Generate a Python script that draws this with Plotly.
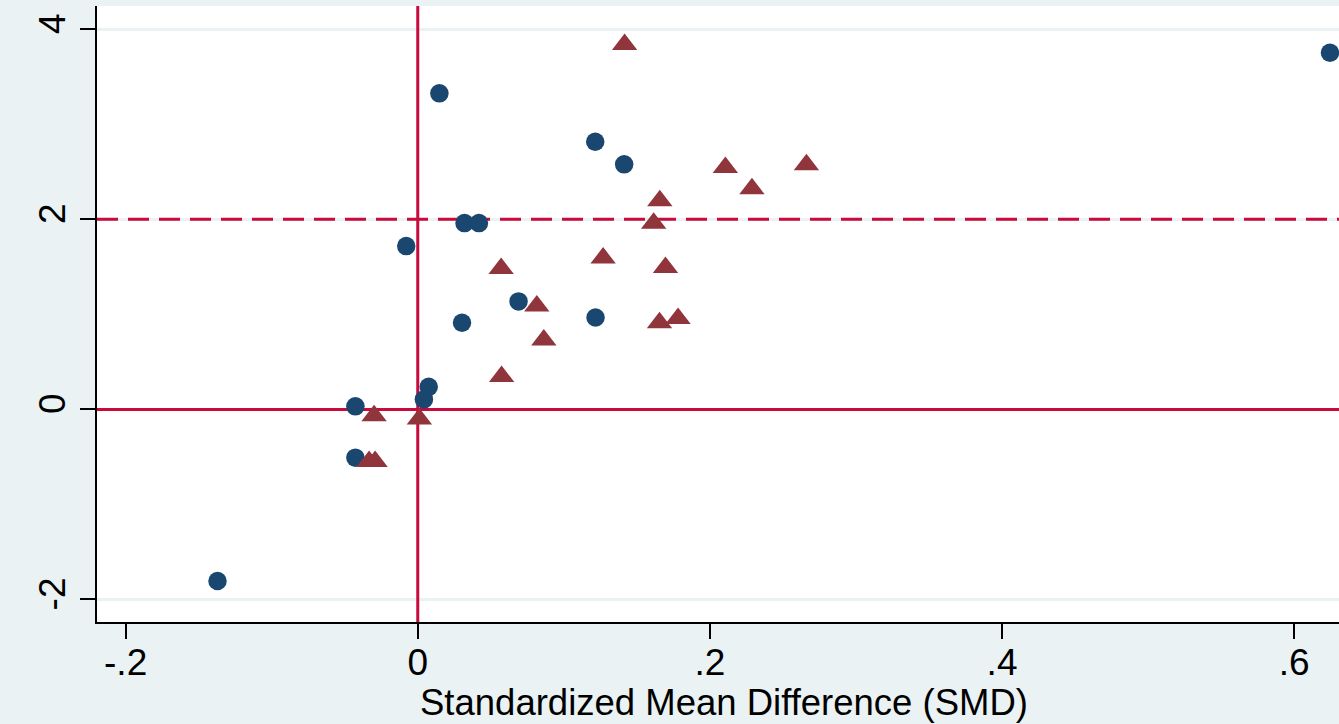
import plotly.graph_objects as go

# Circles (navy)
circle_x = [-0.1371, -0.0427, -0.0427, -0.0079, 0.0148, 0.0075, 0.0042, 0.0303,
            0.0320, 0.0419, 0.0690, 0.1217, 0.1215, 0.1413, 0.6245]
circle_y = [-1.806, 0.032, -0.508, 1.718, 3.325, 0.237, 0.105, 0.911,
            1.960, 1.960, 1.136, 0.967, 2.816, 2.578, 3.752]

# Triangles (maroon)
tri_x = [0.1416, -0.0299, -0.0333, -0.0292, 0.0011, 0.0574, 0.0571, 0.0815, 0.0863,
         0.1269, 0.1615, 0.1657, 0.1696, 0.1655, 0.1782, 0.2106, 0.2288, 0.2661]
tri_y = [3.839, -0.068, -0.548, -0.548, -0.100, 0.346, 1.481, 1.088, 0.730,
         1.592, 1.957, 2.194, 1.494, 0.911, 0.957, 2.544, 2.321, 2.574]

x_ticks = [-0.2, 0, 0.2, 0.4, 0.6]
x_tick_labels = ["-.2", "0", ".2", ".4", ".6"]
y_ticks = [-2, 0, 2, 4]
y_tick_labels = ["-2", "0", "2", "4"]

x_range = [-0.2196, 0.6307]
y_range = [-2.237, 4.244]

ref_x = 0        # vertical reference line
ref_y_solid = 0  # horizontal solid reference line
ref_y_dash = 2   # horizontal dashed reference line

x_title = "Standardized Mean Difference (SMD)"

BG = "#EAF2F3"
RED = "#C80A3C"
FONT = "Liberation Sans, Arial, sans-serif"

fig = go.Figure()
# reference lines (drawn first: above gridlines, below markers)
fig.add_trace(go.Scatter(x=x_range, y=[ref_y_solid, ref_y_solid], mode="lines",
                         line=dict(color=RED, width=3), showlegend=False,
                         hoverinfo="skip"))
fig.add_trace(go.Scatter(x=x_range, y=[ref_y_dash, ref_y_dash], mode="lines",
                         line=dict(color=RED, width=3, dash="21px,10px"),
                         showlegend=False, hoverinfo="skip"))
fig.add_trace(go.Scatter(x=[ref_x, ref_x], y=y_range, mode="lines",
                         line=dict(color=RED, width=3), showlegend=False,
                         hoverinfo="skip"))

fig.add_trace(go.Scatter(x=circle_x, y=circle_y, mode="markers",
                         marker=dict(symbol="circle", size=18.5, color="#1A476F",
                                     line=dict(width=0)),
                         showlegend=False))
fig.add_trace(go.Scatter(x=tri_x, y=tri_y, mode="markers",
                         marker=dict(symbol="triangle-up", size=22, color="#90353B",
                                     line=dict(width=0)),
                         showlegend=False))

fig.add_annotation(text=x_title, xref="paper", yref="paper", x=0.5048, y=-0.130,
                   xanchor="center", yanchor="middle", showarrow=False,
                   font=dict(size=36.5, family=FONT, color="black"))

fig.update_layout(
    width=1339, height=724,
    margin=dict(l=97, r=0, t=6, b=102),
    paper_bgcolor=BG, plot_bgcolor="white",
    font=dict(family=FONT, size=36, color="black"),
    xaxis=dict(range=x_range, tickvals=x_ticks, ticktext=x_tick_labels,
               showgrid=False, zeroline=False, showline=True, linecolor="black",
               linewidth=1.5, ticks="outside", ticklen=15, tickwidth=1.5,
               tickcolor="black", tickfont=dict(size=37), automargin=False,
               ticklabelstandoff=-8),
    yaxis=dict(range=y_range, tickvals=y_ticks, ticktext=y_tick_labels,
               showgrid=True, gridcolor=BG, gridwidth=3, zeroline=False,
               showline=True, linecolor="black", linewidth=1.5, ticks="outside",
               ticklen=15, tickwidth=1.5, tickcolor="black", tickangle=-90,
               tickfont=dict(size=37), automargin=False),
)

fig.write_html("out.html",
               config={"displayModeBar": False},
               post_script="document.body.style.margin='0';"
                           "document.body.style.background='#EAF2F3';")
